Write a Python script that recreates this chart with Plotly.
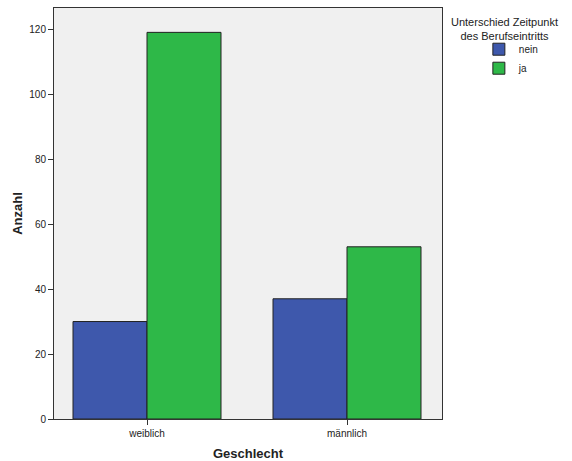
import plotly.graph_objects as go

categories = ["weiblich", "männlich"]
nein_values = [30, 37]
ja_values = [119, 53]
y_ticks = [0, 20, 40, 60, 80, 100, 120]

fig = go.Figure()
fig.add_trace(go.Bar(x=categories, y=nein_values, name="nein",
                     marker=dict(color="#3E58AC", line=dict(color="#222222", width=1))))
fig.add_trace(go.Bar(x=categories, y=ja_values, name="ja",
                     marker=dict(color="#2EB848", line=dict(color="#222222", width=1))))

fig.update_layout(
    width=572, height=461,
    margin=dict(l=54, r=130, t=8, b=42, autoexpand=False),
    paper_bgcolor="white", plot_bgcolor="#F0F0F0",
    barmode="group", bargap=0.26, bargroupgap=0,
    font=dict(family="Liberation Sans, Arial, sans-serif", size=11, color="#222222"),
    showlegend=True,
    legend=dict(x=1.095, y=0.935, xanchor="left", yanchor="top",
                font=dict(size=10), itemwidth=30, tracegroupgap=0,
                bgcolor="rgba(0,0,0,0)"),
    annotations=[dict(text="Unterschied Zeitpunkt<br>des Berufseintritts",
                      xref="paper", yref="paper", x=1.162, y=0.985,
                      xanchor="center", yanchor="top", showarrow=False,
                      font=dict(size=11, color="#222222"))],
)
fig.update_xaxes(
    range=[-0.465, 1.475], showline=True, linecolor="#333333", mirror=True,
    ticks="outside", ticklen=5, tickcolor="#333333", tickfont=dict(size=10),
    title=dict(text="<b>Geschlecht</b>", font=dict(size=13), standoff=11),
    showgrid=False,
)
fig.update_yaxes(
    range=[0, 126.5], tickvals=y_ticks, showline=True, linecolor="#333333", mirror=True,
    ticks="outside", ticklen=5, tickcolor="#333333", tickfont=dict(size=10),
    title=dict(text="<b>Anzahl</b>", font=dict(size=13), standoff=3),
    showgrid=False, zeroline=False,
)
fig.write_html("out.html", config={"displayModeBar": False},
               post_script="document.body.style.margin='0';")
